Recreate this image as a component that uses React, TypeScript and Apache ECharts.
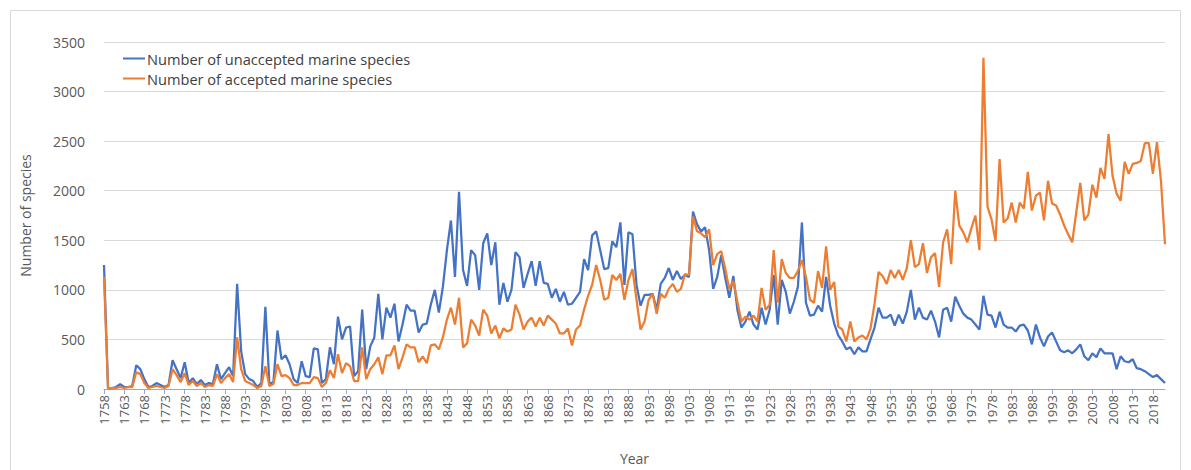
import React, { useEffect, useRef } from "react";
import * as echarts from "echarts";

const startYear = 1758;
const endYear = 2021;
const years: string[] = [];
for (let y = startYear; y <= endYear; y++) years.push(String(y));

const unaccepted: number[] = [
  1250, 10, 10, 20, 50, 20, 20, 30, 240, 200,
  100, 20, 30, 60, 40, 20, 40, 290, 200, 110,
  270, 60, 110, 50, 90, 40, 60, 50, 250, 100,
  160, 220, 130, 1060, 380, 150, 100, 80, 20, 60,
  830, 50, 70, 590, 300, 340, 250, 100, 60, 280,
  130, 120, 410, 400, 60, 100, 420, 250, 730, 500,
  620, 630, 130, 180, 800, 200, 430, 520, 960, 500,
  820, 720, 860, 480, 650, 850, 790, 790, 570, 650,
  660, 850, 1000, 770, 1030, 1400, 1700, 1130, 1990, 1200,
  1040, 1400, 1350, 1000, 1470, 1570, 1250, 1480, 850, 1070,
  880, 1000, 1380, 1330, 1020, 1160, 1290, 1040, 1290, 1070,
  1060, 920, 1010, 880, 980, 850, 860, 920, 980, 1310,
  1200, 1550, 1590, 1400, 1210, 1220, 1490, 1430, 1680, 1050,
  1580, 1560, 1050, 840, 950, 950, 960, 800, 1060, 1120,
  1220, 1100, 1190, 1110, 1150, 1130, 1790, 1660, 1590, 1630,
  1400, 1010, 1130, 1350, 1120, 920, 1140, 800, 620, 680,
  780, 650, 600, 820, 650, 800, 1150, 650, 1100, 980,
  760, 880, 1030, 1680, 870, 740, 750, 840, 780, 1130,
  840, 660, 540, 480, 400, 420, 350, 420, 380, 380,
  500, 620, 820, 720, 720, 750, 640, 750, 660, 780,
  1000, 700, 820, 720, 700, 790, 680, 520, 800, 820,
  680, 930, 840, 760, 720, 700, 650, 600, 940, 750,
  740, 620, 780, 650, 620, 620, 580, 640, 650, 590,
  450, 650, 520, 430, 530, 570, 480, 390, 370, 390,
  360, 400, 450, 330, 290, 360, 320, 410, 360, 360,
  360, 200, 330, 280, 270, 300, 210, 200, 180, 150,
  120, 140, 100, 60,
];

const accepted: number[] = [
  1130, 10, 10, 10, 20, 10, 20, 20, 170, 150,
  60, 10, 20, 30, 20, 10, 30, 200, 140, 70,
  160, 40, 80, 30, 60, 20, 40, 30, 150, 60,
  110, 150, 70, 520, 200, 80, 60, 40, 10, 30,
  230, 30, 50, 250, 130, 140, 110, 40, 40, 60,
  60, 60, 120, 110, 20, 60, 190, 110, 350, 160,
  260, 230, 80, 80, 420, 100, 200, 250, 320, 150,
  340, 340, 440, 200, 320, 450, 420, 420, 270, 330,
  260, 440, 450, 400, 520, 700, 820, 650, 920, 420,
  460, 700, 640, 540, 800, 740, 560, 640, 510, 610,
  580, 600, 850, 750, 600, 680, 720, 630, 720, 640,
  740, 700, 660, 560, 560, 610, 440, 600, 640, 800,
  940, 1050, 1250, 1100, 900, 920, 1150, 1100, 1160, 900,
  1100, 1210, 900, 600, 680, 900, 960, 760, 960, 920,
  1010, 1060, 980, 1010, 1160, 1150, 1740, 1590, 1570, 1530,
  1610, 1250, 1360, 1390, 1210, 1010, 1090, 880, 680, 730,
  700, 740, 680, 1020, 800, 850, 1400, 870, 1310, 1170,
  1120, 1120, 1190, 1300, 1130, 900, 870, 1190, 1020, 1440,
  1000, 1080, 630, 600, 480, 680, 480, 520, 540, 500,
  610, 860, 1180, 1140, 1060, 1200, 1120, 1200, 1100, 1220,
  1500, 1230, 1260, 1470, 1170, 1330, 1370, 1030, 1480, 1610,
  1260, 2000, 1650, 1580, 1480, 1620, 1750, 1400, 3340, 1840,
  1710, 1490, 2320, 1680, 1720, 1880, 1680, 1880, 1820, 2190,
  1800, 1950, 1980, 1700, 2100, 1870, 1850, 1760, 1650, 1560,
  1480, 1780, 2080, 1700, 1760, 2060, 1930, 2230, 2120, 2570,
  2150, 1970, 1900, 2290, 2170, 2270, 2280, 2300, 2480, 2480,
  2170, 2490, 2100, 1460,
];

const FONT = "'Open Sans', Lato, sans-serif";

export default function App() {
  const ref = useRef<HTMLDivElement>(null);
  useEffect(() => {
    document.body.style.margin = "0";
    if (!ref.current) return;
    const chart = echarts.init(ref.current, undefined, { renderer: "svg" });
    chart.setOption({
      animation: false,
      backgroundColor: "#ffffff",
      textStyle: { fontFamily: FONT },
      graphic: [
        {
          type: "rect",
          shape: { x: 10.5, y: 10.5, width: 1170, height: 470 },
          style: { fill: "none", stroke: "#d9d9d9", lineWidth: 1 },
          silent: true,
        },
      ],
      legend: {
        orient: "vertical",
        left: 118,
        top: 46,
        itemWidth: 22,
        itemHeight: 2,
        itemGap: 5,
        icon: "rect",
        textStyle: { fontSize: 14.6, color: "#404040", fontFamily: FONT, padding: [0, 0, 0, -3] },
        data: ["Number of unaccepted marine species", "Number of accepted marine species"],
      },
      grid: { left: 104, right: 26, top: 42, bottom: 81, outerBoundsMode: "none", containLabel: false },
      xAxis: {
        type: "category",
        data: years,
        boundaryGap: false,
        name: "Year",
        nameLocation: "middle",
        nameGap: 62,
        nameTextStyle: { fontSize: 14, color: "#595959", fontFamily: FONT },
        axisLine: { show: true, lineStyle: { color: "#8EA9DB", width: 1 } },
        axisTick: { show: true, interval: 4, length: 5, lineStyle: { color: "#8EA9DB" } },
        axisLabel: { interval: 4, rotate: 90, fontSize: 13, color: "#595959", margin: 6, fontFamily: FONT },
        splitLine: { show: false },
      },
      yAxis: {
        type: "value",
        min: 0,
        max: 3500,
        interval: 500,
        name: "Number of species",
        nameLocation: "middle",
        nameGap: 72,
        nameTextStyle: { fontSize: 14, color: "#595959", fontFamily: FONT },
        axisLine: { show: false },
        axisTick: { show: false },
        axisLabel: {
          fontSize: 14,
          color: "#595959",
          margin: 19,
          fontFamily: FONT,
          formatter: (v: number) => String(v),
        },
        splitLine: { lineStyle: { color: "#d9d9d9", width: 1 } },
      },
      series: [
        {
          name: "Number of unaccepted marine species",
          type: "line",
          data: unaccepted,
          showSymbol: false,
          symbol: "none",
          lineStyle: { color: "#4472C4", width: 2.25 },
          itemStyle: { color: "#4472C4" },
        },
        {
          name: "Number of accepted marine species",
          type: "line",
          data: accepted,
          showSymbol: false,
          symbol: "none",
          lineStyle: { color: "#ED7D31", width: 2.25 },
          itemStyle: { color: "#ED7D31" },
        },
      ],
    });
    return () => chart.dispose();
  }, []);
  return <div ref={ref} style={{ width: 1191, height: 470 }} />;
}
